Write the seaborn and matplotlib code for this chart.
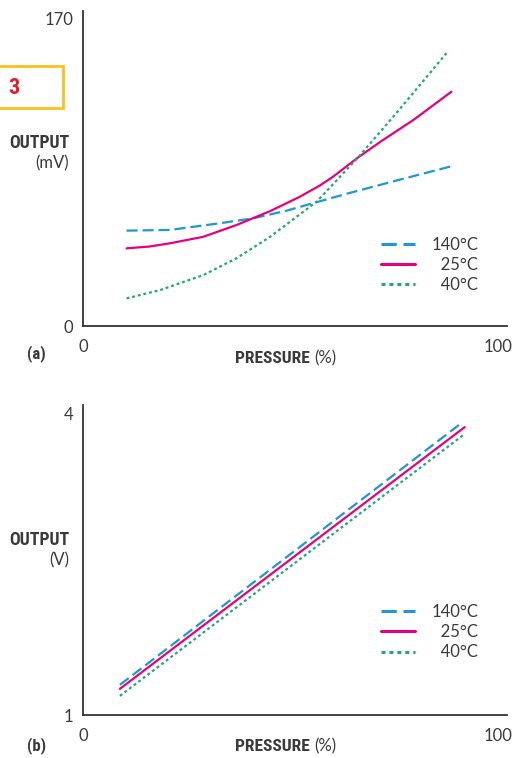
import matplotlib
matplotlib.use("Agg")
import matplotlib.pyplot as plt
from matplotlib.lines import Line2D
from matplotlib.patches import Rectangle
import seaborn as sns
import pandas as pd

# series labels (legend order)
temps = ["140°C", "25°C", "40°C"]

# panel (a): output in mV vs pressure in %
a_x_140 = [10.5, 21, 33, 41, 49, 57, 64, 76, 89.4]
a_y_140 = [52.8, 53.2, 56.9, 59.6, 63.8, 69.0, 73.5, 80.8, 88.8]
a_x_25 = [10.5, 16, 21, 29, 37, 45.1, 52.3, 57.1, 60.3, 66.3, 72, 79.6, 88.8]
a_y_25 = [43.0, 44.0, 45.8, 49.4, 55.9, 63.6, 71.6, 77.8, 82.7, 93.3, 102.5, 114.0, 129.7]
a_x_40 = [10.5, 18.6, 29, 37, 45.1, 51.5, 56.3, 66.3, 75.5, 87.6]
a_y_40 = [15.3, 19.9, 28.2, 37.5, 49.4, 60.5, 68.8, 93.3, 117.8, 151.0]

# panel (b): output in V vs pressure in %
b_x_140 = [8.9, 91.2]
b_y_140 = [1.30, 3.90]
b_x_25 = [8.9, 92.0]
b_y_25 = [1.26, 3.86]
b_x_40 = [8.9, 91.6]
b_y_40 = [1.19, 3.78]


def make_df(xs, ys):
    rows = []
    for t, x, y in zip(temps, xs, ys):
        for xi, yi in zip(x, y):
            rows.append({"pressure": xi, "output": yi, "temp": t})
    return pd.DataFrame(rows)


df_a = make_df([a_x_140, a_x_25, a_x_40], [a_y_140, a_y_25, a_y_40])
df_b = make_df([b_x_140, b_x_25, b_x_40], [b_y_140, b_y_25, b_y_40])

sns.set_theme(style="white")
plt.rcParams["font.family"] = ["Lato", "DejaVu Sans"]

palette = {"140°C": "#1b98d5", "25°C": "#e6007e", "40°C": "#1fab6e"}
dashes = {"140°C": (5, 2.2), "25°C": "", "40°C": (1.3, 1.3)}
axis_col = "#333333"
text_col = "#3a3a3a"
narrow = ["Roboto Condensed", "Roboto", "DejaVu Sans"]

fig = plt.figure(figsize=(5.31, 7.58), dpi=100)
ax_a = fig.add_axes([0.1563, 0.5699, 0.7985, 0.4156])
ax_b = fig.add_axes([0.1563, 0.0567, 0.7985, 0.4090])


def draw_panel(ax, df, ylim, yticks, unit, leg_y, tag, tag_y, out_y):
    sns.lineplot(data=df, x="pressure", y="output", hue="temp", style="temp",
                 hue_order=temps, style_order=temps, palette=palette, dashes=dashes,
                 estimator=None, sort=False, legend=False, linewidth=1.6, ax=ax)
    for ln in ax.get_lines():
        ln.set_dash_capstyle("butt")
        ln.set_solid_joinstyle("round")

    ax.set_xlim(0, 102.2)
    ax.set_ylim(*ylim)
    ax.set_xticks([0, 100])
    ax.set_yticks(yticks)
    ax.set_xticklabels(["0", "100"])
    ax.set_yticklabels([str(v) for v in yticks])
    ax.tick_params(length=0, labelsize=12, colors=text_col)
    ax.tick_params(axis="x", pad=9)
    ax.tick_params(axis="y", pad=7)
    ax.set_xlabel("")
    ax.set_ylabel("")
    sns.despine(ax=ax)
    for s in ["left", "bottom"]:
        ax.spines[s].set_color(axis_col)
        ax.spines[s].set_linewidth(1.3)

    # x axis title, bold part + unit
    ax.text(0.535, -0.102, "PRESSURE", transform=ax.transAxes, ha="right", va="center",
            fontsize=12.5, fontweight="bold", family=narrow, color=text_col)
    ax.text(0.545, -0.102, "(%)", transform=ax.transAxes, ha="left", va="center",
            fontsize=12, color=text_col)

    # y axis title
    fig.text(0.130, out_y, "OUTPUT", ha="right", va="center", fontsize=12.8,
             fontweight="bold", family=narrow, color=text_col)
    fig.text(0.130, out_y - 0.027, unit, ha="right", va="center", fontsize=12,
             color=text_col)

    fig.text(0.068, tag_y, tag, ha="center", va="center", fontsize=12,
             fontweight="bold", family=narrow, color=text_col)

    handles = [Line2D([], [], color=palette[t], linewidth=2.2,
                      dashes=dashes[t] if dashes[t] else (None, None),
                      dash_capstyle="butt") for t in temps]
    labels = ["140°C", "\u200725°C", "\u200740°C"]
    leg = ax.legend(handles, labels, loc="upper right", bbox_to_anchor=(0.932, leg_y),
                    frameon=False, fontsize=12, handlelength=2.0, handletextpad=1.0,
                    labelspacing=0.25, borderpad=0, borderaxespad=0)
    for t in leg.get_texts():
        t.set_color(text_col)


draw_panel(ax_a, df_a, (0, 174.4), [0, 170], "(mV)", 0.283, "(a)", 0.534, 0.811)
draw_panel(ax_b, df_b, (1, 4.08), [1, 4], "(V)", 0.358, "(b)", 0.017, 0.2876)

# section marker box at the left edge
fig.patches.append(Rectangle((-0.01, 0.8575), 0.1286, 0.0554, transform=fig.transFigure,
                             fill=False, edgecolor="#f7c21b", linewidth=2.0))
fig.text(0.026, 0.8845, "3", ha="center", va="center", fontsize=16,
         fontweight="heavy", color="#e31e2a", family=narrow)

plt.savefig("out.png", dpi=100)
